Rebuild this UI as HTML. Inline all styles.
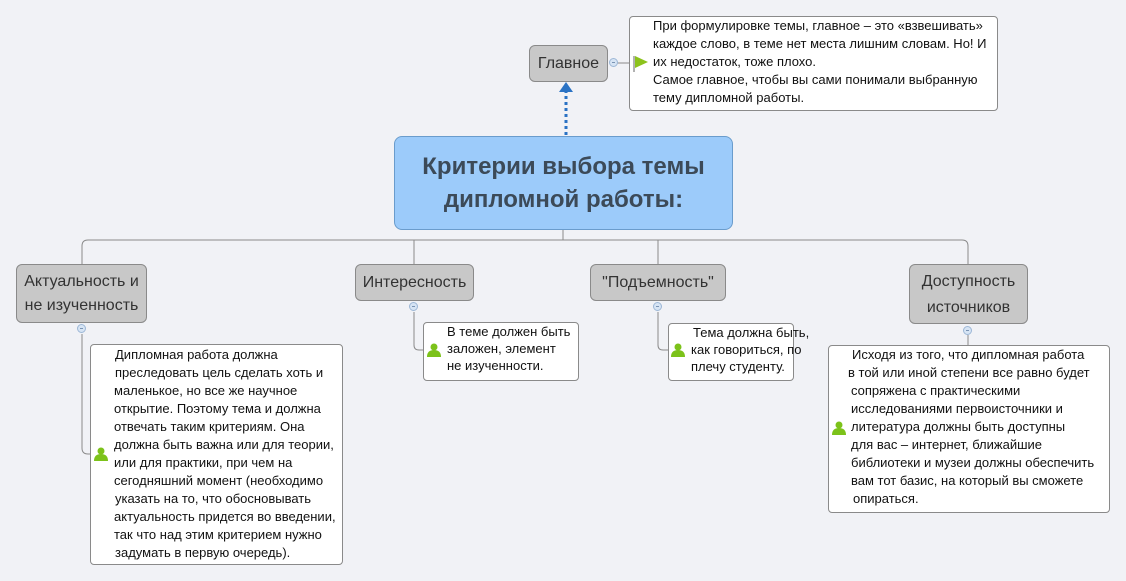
<!DOCTYPE html>
<html><head><meta charset="utf-8"><style>
body{margin:0;width:1126px;height:581px;background:#f1f2f6;position:relative;overflow:hidden;font-family:"Liberation Sans","DejaVu Sans",sans-serif;}
.a{position:absolute}
.topic{position:absolute;background:#c8c8c8;border:1px solid #8a8a8a;border-radius:6px;color:#333;font-size:16px;text-align:center;box-sizing:border-box;white-space:nowrap}
.note{position:absolute;background:#fff;border:1px solid #8a8a8a;border-radius:4px;box-sizing:border-box;font-size:13px;color:#111;}
.note div{position:absolute;white-space:nowrap}
.circ{position:absolute;width:9px;height:9px;border-radius:50%;background:#d6e4f4;border:1px solid #9db7d6;box-sizing:border-box}
.circ:after{content:"";position:absolute;left:2px;top:3px;width:3px;height:1px;background:#7a94b4}
</style></head><body>
<svg class="a" style="left:0;top:0" width="1126" height="581">
<g fill="none" stroke="#8a8a8a" stroke-width="1">
<path d="M563 230 V240"/>
<path d="M82 264 V246 Q82 240 88 240 H962 Q968 240 968 246 V264"/>
<path d="M414 240 V264 M658 240 V264"/>
<path d="M82 334 V448 Q82 454 88 454 H98"/>
<path d="M414 312 V345 Q414 350 419 350 H428"/>
<path d="M658 312 V345 Q658 350 663 350 H672"/>
<path d="M968 335 V345"/>
<path d="M612 63 H629"/>
</g>
<path d="M566 135 V88" stroke="#2a72c4" stroke-width="3" stroke-dasharray="3 3"/>
<path d="M559 92 L566 82 L573 92 Z" fill="#2a72c4"/>
</svg>
<div class="circ" style="left:609px;top:58px"></div>
<div class="circ" style="left:77px;top:324px"></div>
<div class="circ" style="left:409px;top:302px"></div>
<div class="circ" style="left:653px;top:302px"></div>
<div class="circ" style="left:963px;top:326px"></div>

<div class="topic" style="left:529px;top:45px;width:79px;height:37px;line-height:35px">Главное</div>
<div class="a" style="left:394px;top:136px;width:339px;height:94px;background:#9ccbfa;border:1px solid #6a9ccc;border-radius:8px;box-sizing:border-box;text-align:center;font-weight:bold;font-size:24px;color:#3c4a58;line-height:33px;padding-top:13px">Критерии выбора темы<br>дипломной работы:</div>

<div class="topic" style="left:16px;top:264px;width:131px;height:59px;line-height:24px;padding-top:5px">Актуальность и<br>не изученность</div>
<div class="topic" style="left:355px;top:264px;width:119px;height:37px;line-height:35px">Интересность</div>
<div class="topic" style="left:590px;top:264px;width:136px;height:37px;line-height:35px">"Подъемность"</div>
<div class="topic" style="left:909px;top:264px;width:119px;height:60px;line-height:26px;padding-top:4px">Доступность<br>источников</div>

<div class="note" style="left:629px;top:16px;width:369px;height:95px">
<div style="left:23px;top:1px">При формулировке темы, главное – это «взвешивать»</div>
<div style="left:23px;top:19px">каждое слово, в теме нет места лишним словам. Но! И</div>
<div style="left:23px;top:37px">их недостаток, тоже плохо.</div>
<div style="left:23px;top:55px">Самое главное, чтобы вы сами понимали выбранную</div>
<div style="left:23px;top:73px">тему дипломной работы.</div>
</div>

<div class="note" style="left:90px;top:344px;width:253px;height:221px">
<div style="left:24px;top:2px">Дипломная работа должна</div>
<div style="left:24px;top:20px">преследовать цель сделать хоть и</div>
<div style="left:23px;top:38px">маленькое, но все же научное</div>
<div style="left:23px;top:56px">открытие. Поэтому тема и должна</div>
<div style="left:23px;top:74px">отвечать таким критериям. Она</div>
<div style="left:23px;top:92px">должна быть важна или для теории,</div>
<div style="left:23px;top:110px">или для практики, при чем на</div>
<div style="left:23px;top:128px">сегодняшний момент (необходимо</div>
<div style="left:24px;top:146px">указать на то, что обосновывать</div>
<div style="left:23px;top:164px">актуальность придется во введении,</div>
<div style="left:23px;top:182px">так что над этим критерием нужно</div>
<div style="left:24px;top:200px">задумать в первую очередь).</div>
</div>

<div class="note" style="left:423px;top:322px;width:156px;height:59px">
<div style="left:23px;top:1px">В теме должен быть</div>
<div style="left:23px;top:18px">заложен, элемент</div>
<div style="left:23px;top:35px">не изученности.</div>
</div>

<div class="note" style="left:668px;top:323px;width:126px;height:58px">
<div style="left:24px;top:1px">Тема должна быть,</div>
<div style="left:22px;top:18px">как говориться, по</div>
<div style="left:22px;top:35px">плечу студенту.</div>
</div>

<div class="note" style="left:828px;top:345px;width:282px;height:168px">
<div style="left:23px;top:1px">Исходя из того, что дипломная работа</div>
<div style="left:19px;top:19px">в той или иной степени все равно будет</div>
<div style="left:22px;top:37px">сопряжена с практическими</div>
<div style="left:22px;top:55px">исследованиями первоисточники и</div>
<div style="left:22px;top:73px">литература должны быть доступны</div>
<div style="left:22px;top:91px">для вас – интернет, ближайшие</div>
<div style="left:22px;top:109px">библиотеки и музеи должны обеспечить</div>
<div style="left:22px;top:127px">вам тот базис, на который вы сможете</div>
<div style="left:24px;top:145px">опираться.</div>
</div>

<svg class="a" style="left:0;top:0" width="1126" height="581">
<path d="M634 56 V72" stroke="#999" stroke-width="1.5"/>
<path d="M635 56 L648 62 L635 68 Z" fill="#8cc21c"/>
<g fill="#7cc21a">
<circle cx="101" cy="451" r="3.5"/><path d="M94 461 Q94 454 101 454 Q108 454 108 461 Z"/>
<circle cx="434" cy="347" r="3.5"/><path d="M427 357 Q427 350 434 350 Q441 350 441 357 Z"/>
<circle cx="678" cy="347" r="3.5"/><path d="M671 357 Q671 350 678 350 Q685 350 685 357 Z"/>
<circle cx="839" cy="425" r="3.5"/><path d="M832 435 Q832 428 839 428 Q846 428 846 435 Z"/>
</g>
</svg>
</body></html>
